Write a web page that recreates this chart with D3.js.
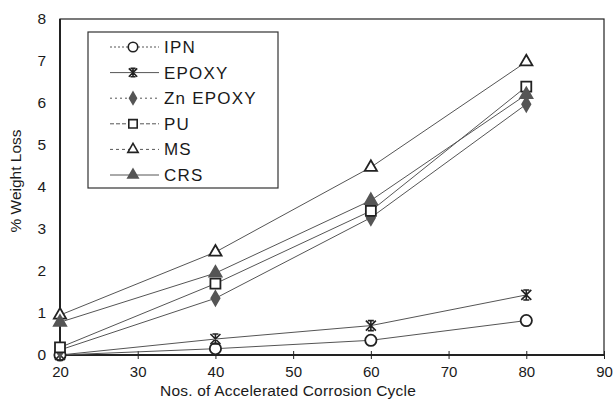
<!DOCTYPE html>
<html><head><meta charset="utf-8">
<script src="https://cdn.jsdelivr.net/npm/d3@7"></script>
<style>body{margin:0;background:#fff}svg{display:block}text{font-family:"Liberation Sans",Arial,sans-serif;fill:#1a1a1a}</style>
</head><body><svg id="c" width="613" height="413"></svg>
<script>
const cycles = [20, 40, 60, 80];
const ipn = [0.0, 0.15, 0.35, 0.82];
const epoxy = [0.0, 0.38, 0.7, 1.43];
const znEpoxy = [0.12, 1.35, 3.27, 5.97];
const pu = [0.18, 1.7, 3.43, 6.39];
const ms = [0.95, 2.45, 4.47, 6.98];
const crs = [0.78, 1.95, 3.68, 6.2];
const seriesNames = ["IPN", "EPOXY", "Zn EPOXY", "PU", "MS", "CRS"];
const xTicks = [20, 30, 40, 50, 60, 70, 80, 90];
const yTicks = [0, 1, 2, 3, 4, 5, 6, 7, 8];

const series = [
  {name: seriesNames[0], values: ipn, sym: "circle", fill: false, dash: "2,2"},
  {name: seriesNames[1], values: epoxy, sym: "asterisk", fill: false, dash: null},
  {name: seriesNames[2], values: znEpoxy, sym: "diamond", fill: true, dash: "2,3"},
  {name: seriesNames[3], values: pu, sym: "square", fill: false, dash: "4,2"},
  {name: seriesNames[4], values: ms, sym: "triangle", fill: false, dash: "3,3"},
  {name: seriesNames[5], values: crs, sym: "triangle", fill: true, dash: null}
];

const svg = d3.select("#c");
const L = 60, R = 604, T = 19, B = 355;
const x = d3.scaleLinear().domain([20, 90]).range([L, R]);
const y = d3.scaleLinear().domain([0, 8]).range([B, T]);

// frame
svg.append("rect").attr("x", L).attr("y", T).attr("width", R - L).attr("height", B - T)
  .attr("fill", "none").attr("stroke", "#222").attr("stroke-width", 1.2);
svg.append("line").attr("x1", L).attr("x2", L).attr("y1", T).attr("y2", B).attr("stroke", "#222").attr("stroke-width", 2);
svg.append("line").attr("x1", L).attr("x2", R).attr("y1", B).attr("y2", B).attr("stroke", "#222").attr("stroke-width", 1.8);

// x axis
const xa = svg.append("g").attr("transform", `translate(0,${B})`)
  .call(d3.axisBottom(x).tickValues(xTicks).tickSize(4).tickPadding(7).tickFormat(d3.format("d")));
xa.select(".domain").remove();
xa.selectAll(".tick line").attr("y1", -4).attr("stroke", "#222");
xa.selectAll(".tick text").style("font-size", "15px").attr("fill", "#1a1a1a");

// y axis
const ya = svg.append("g").attr("transform", `translate(${L},0)`)
  .call(d3.axisLeft(y).tickValues(yTicks).tickSize(0).tickPadding(14).tickFormat(d3.format("d")));
ya.select(".domain").remove();
ya.selectAll(".tick text").style("font-size", "15.5px").attr("fill", "#1a1a1a");

// titles
svg.append("text").attr("x", 288).attr("y", 396).attr("text-anchor", "middle")
  .style("font-size", "15.5px").style("letter-spacing", "0.2px").text("Nos. of Accelerated Corrosion Cycle");
svg.append("text").attr("transform", `translate(21,181) rotate(-90)`)
  .attr("text-anchor", "middle").style("font-size", "15.5px").text("% Weight Loss");

function symbolPath(sym, s) {
  if (sym === "asterisk") {
    const r = s;
    return `M${-r},${-r}L${r},${r}M${-r},${r}L${r},${-r}M0,${-r * 1.1}L0,${r * 1.1}M${-r * 0.6},${-r}L${r * 0.6},${-r}M${-r * 0.6},${r}L${r * 0.6},${r}`;
  }
  const map = {circle: d3.symbolCircle, diamond: d3.symbolDiamond, square: d3.symbolSquare, triangle: d3.symbolTriangle};
  const k = s / 5;
  const size = {circle: 100, diamond: 60, square: 100, triangle: 65}[sym] * k * k;
  return d3.symbol().type(map[sym]).size(size)();
}

const line = d3.line().x((d, i) => x(cycles[i])).y(d => y(d));
const plot = svg.append("g");
series.forEach(s => {
  plot.append("path").attr("d", line(s.values)).attr("fill", "none")
    .attr("stroke", "#555").attr("stroke-width", 1);
});
series.forEach(s => {
  plot.selectAll(null).data(s.values).enter().append("path")
    .attr("transform", (d, i) => `translate(${x(cycles[i])},${y(d)})`)
    .attr("d", symbolPath(s.sym, 5))
    .attr("fill", s.fill ? "#555" : (s.sym === "asterisk" ? "none" : "#fff"))
    .attr("stroke", s.fill ? "#555" : "#222").attr("stroke-width", s.sym === "asterisk" ? 1.6 : 1.8);
});

// legend
const lg = svg.append("g");
lg.append("rect").attr("x", 88).attr("y", 32).attr("width", 190).attr("height", 156)
  .attr("fill", "#fff").attr("stroke", "#333").attr("stroke-width", 1.2);
const ly = d3.scalePoint().domain(seriesNames).range([47, 175]);
series.forEach(s => {
  const cy = ly(s.name);
  lg.append("line").attr("x1", 110).attr("x2", 159).attr("y1", cy).attr("y2", cy)
    .attr("stroke", "#555").attr("stroke-width", 1).attr("stroke-dasharray", s.dash);
  lg.append("path").attr("transform", `translate(133,${cy})`).attr("d", symbolPath(s.sym, 4.2))
    .attr("fill", s.fill ? "#555" : (s.sym === "asterisk" ? "none" : "#fff"))
    .attr("stroke", s.fill ? "#555" : "#222").attr("stroke-width", 1.6);
  lg.append("text").attr("x", 164).attr("y", cy + 6).style("font-size", "17px")
    .style("letter-spacing", "1.2px").text(s.name);
});
</script></body></html>
